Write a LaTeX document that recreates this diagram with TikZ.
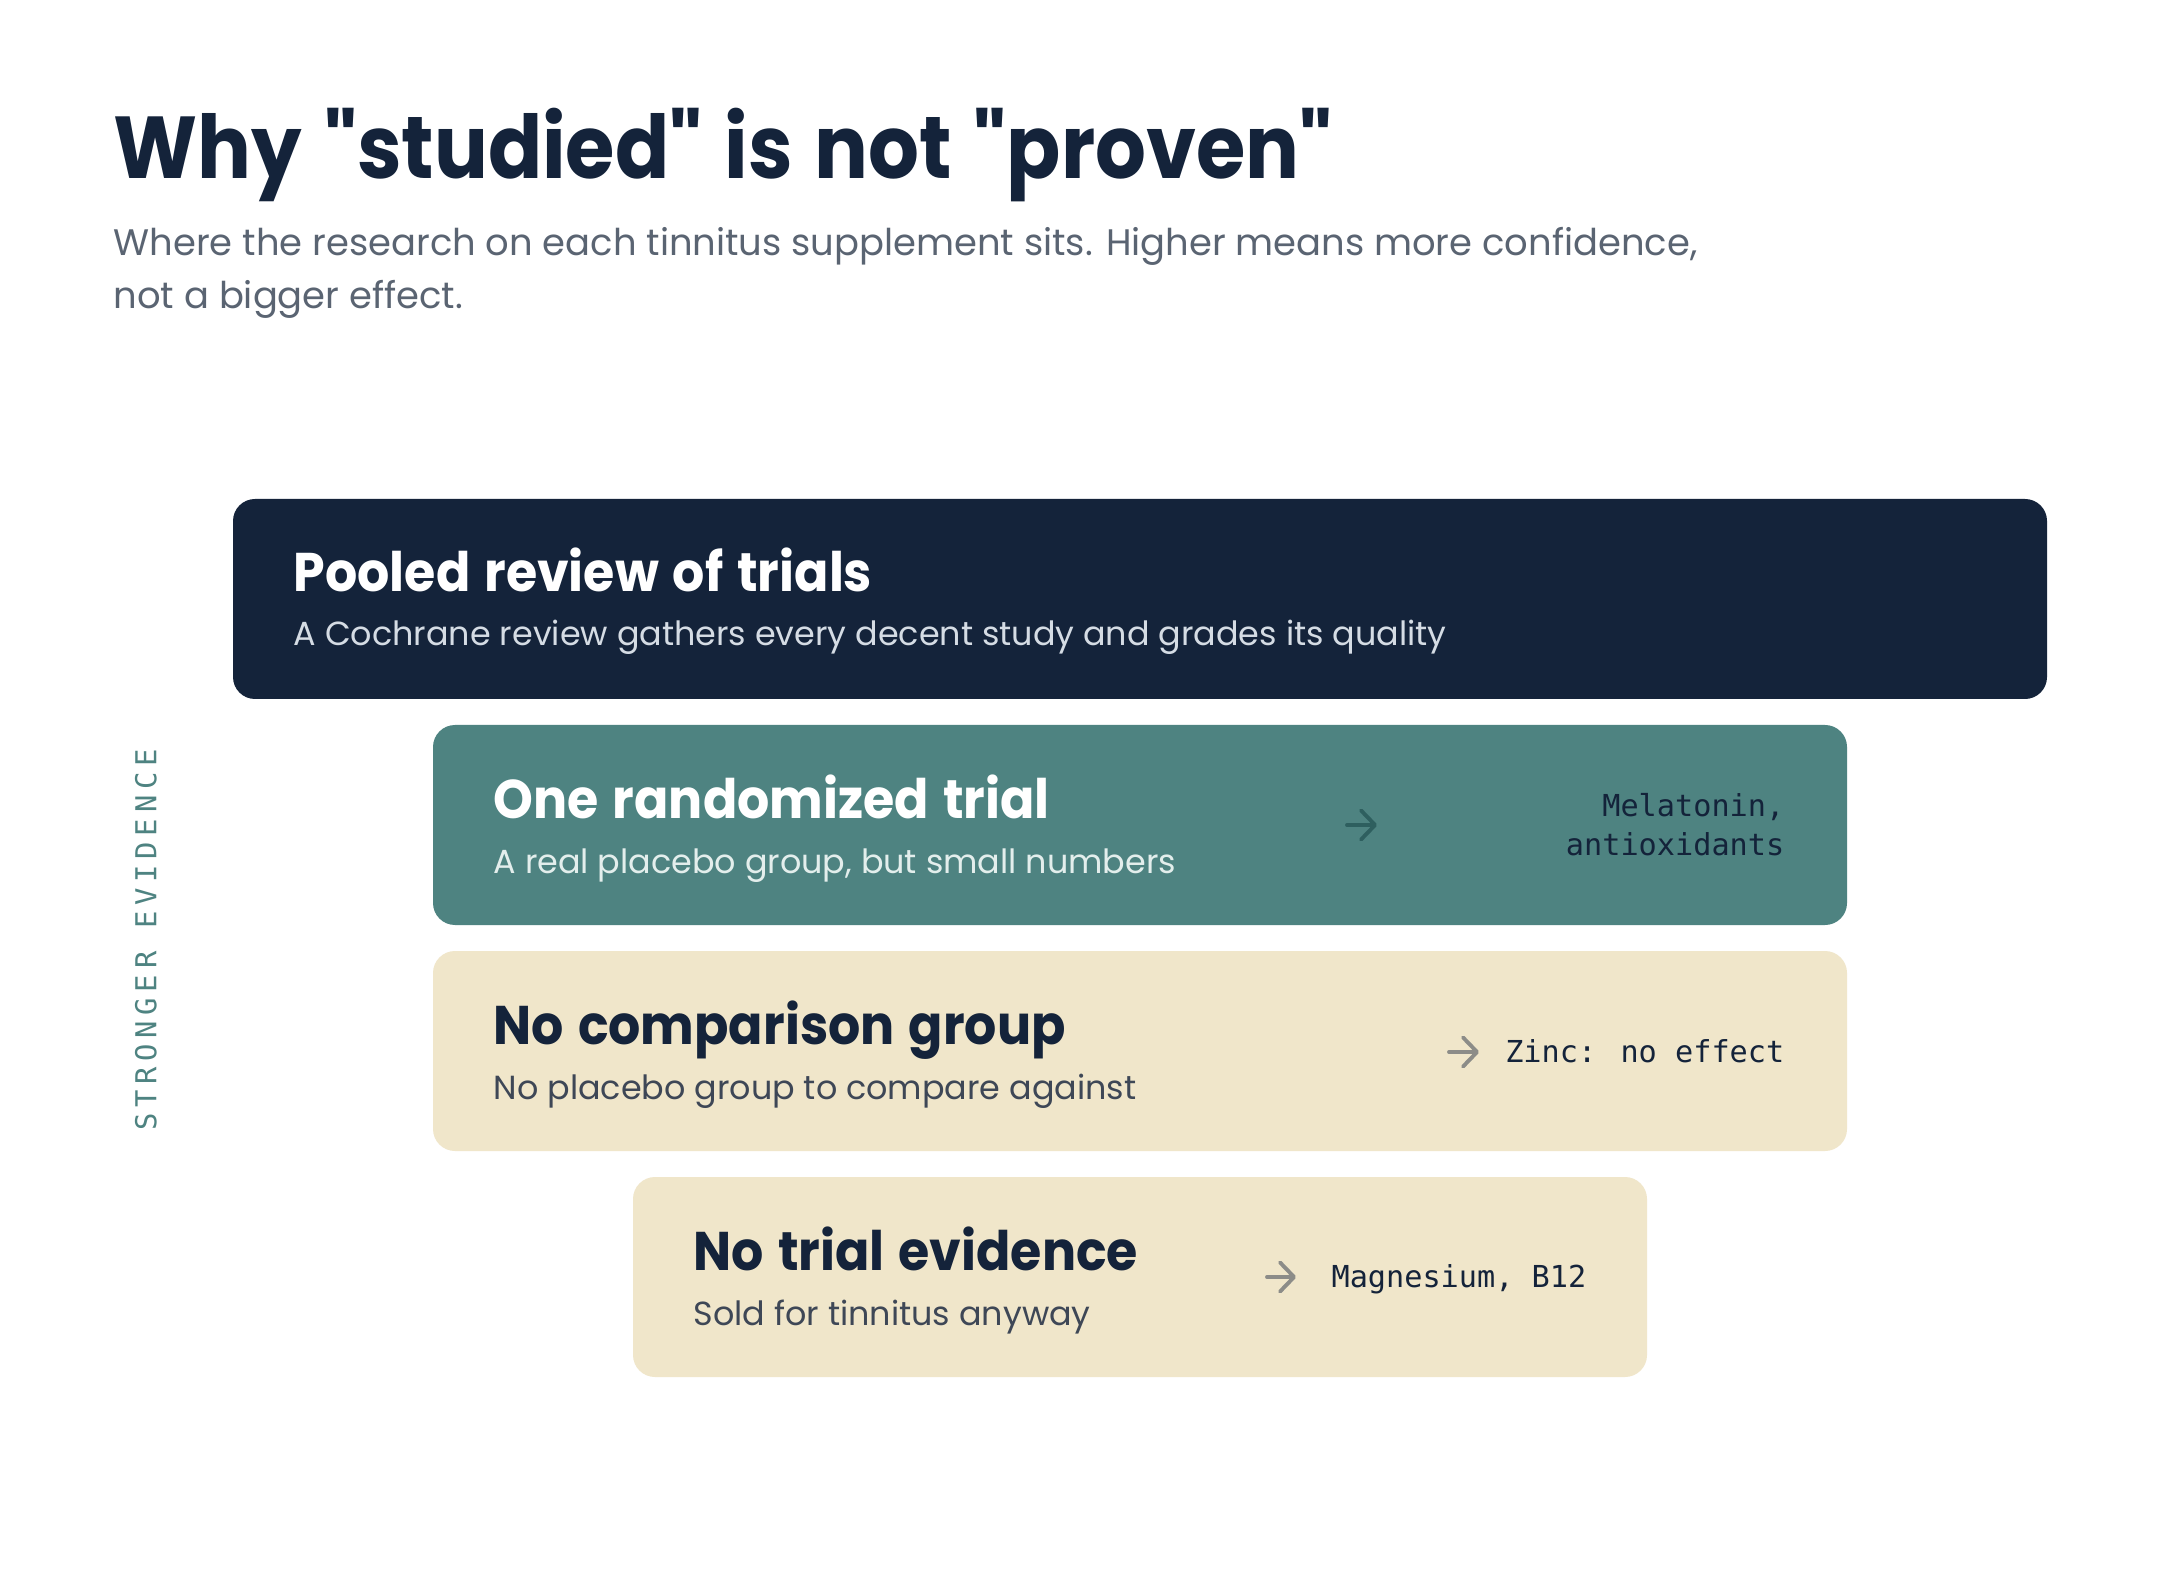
\documentclass[tikz,border=0pt]{standalone}
\usepackage{fontspec}
\setmainfont{Poppins}[Ligatures=TeXOff]
\newfontfamily\headfont{Poppins}[Ligatures=TeXOff, FakeStretch=0.91, WordSpace=1.3]
\newfontfamily\tierfont{Poppins}[FakeStretch=0.93, WordSpace=1.3]
\newfontfamily\monofont{DejaVu Sans Mono}
\newfontfamily\axisfont[LetterSpace=20]{DejaVu Sans Mono}
\usetikzlibrary{arrows.meta}

\definecolor{navy}{HTML}{14233A}
\definecolor{teal}{HTML}{4E8381}
\definecolor{cream}{HTML}{F0E6CA}
\definecolor{slate}{HTML}{5A6472}
\definecolor{mist}{HTML}{D5DCE4}
\definecolor{foam}{HTML}{E3EEEC}
\definecolor{ink}{HTML}{3E4756}
\definecolor{deepteal}{HTML}{2E5F5F}
\definecolor{stone}{HTML}{8C8C88}

\tikzset{
  tier/.style={rounded corners=0.22cm, inner sep=0, minimum height=2cm},
  tiertitle/.style={anchor=base west, inner sep=0, font=\tierfont\fontsize{15.5}{18}\selectfont\bfseries},
  tiernote/.style={anchor=base west, inner sep=0, font=\fontsize{9.5}{12}\selectfont},
  pick/.style={anchor=base east, inner sep=0, text=navy, font=\monofont\fontsize{8.6}{10}\selectfont},
  pointer/.style={-{Straight Barb[length=1.4mm,width=2.9mm,round]}, line width=1.1pt, line cap=round},
}

\begin{document}
\begin{tikzpicture}
  \useasboundingbox[fill=white] (0,0) rectangle (21.6,-15.8);

  % heading
  \node[anchor=base west, inner sep=0, text=navy, font=\headfont\fontsize{25}{30}\selectfont\bfseries]
    (title) at (1.13,-1.79) {Why "studied" is not "proven"};
  \node[anchor=base west, inner sep=0, text=slate, font=\fontsize{10.5}{13}\selectfont]
    (sub1) at (1.13,-2.56) {Where the research on each tinnitus supplement sits. Higher means more confidence,};
  \node[anchor=base west, inner sep=0, text=slate, font=\fontsize{10.5}{13}\selectfont]
    (sub2) at (1.13,-3.09) {not a bigger effect.};

  % the four tiers
  \node[tier, fill=navy, minimum width=18.14cm] (pooled) at (11.40,-5.99) {};
  \node[tier, fill=teal, minimum width=14.14cm] (rct) at (11.40,-8.25) {};
  \node[tier, fill=cream, minimum width=14.14cm] (nocomp) at (11.40,-10.51) {};
  \node[tier, fill=cream, minimum width=10.14cm] (none) at (11.40,-12.77) {};

  \node[tiertitle, text=white] (pooledT) at (2.93,-5.92) {Pooled review of trials};
  \node[tiernote, text=mist] (pooledN) at (2.93,-6.46) {A Cochrane review gathers every decent study and grades its quality};

  \node[tiertitle, text=white] (rctT) at (4.93,-8.18) {One randomized trial};
  \node[tiernote, text=foam] (rctN) at (4.93,-8.73) {A real placebo group, but small numbers};
  \coordinate (rctA) at (13.47,-8.25);
  \coordinate (rctB) at (13.77,-8.25);
  \draw[pointer, deepteal] (rctA) -- (rctB);
  \node[pick] (rctP1) at (17.85,-8.16) {Melatonin,};
  \node[pick] (rctP2) at (17.85,-8.55) {antioxidants};

  \node[tiertitle, text=navy] (nocompT) at (4.93,-10.44) {No comparison group};
  \node[tiernote, text=ink] (nocompN) at (4.93,-10.99) {No placebo group to compare against};
  \coordinate (nocompA) at (14.49,-10.52);
  \coordinate (nocompB) at (14.79,-10.52);
  \draw[pointer, stone] (nocompA) -- (nocompB);
  \node[pick] (nocompP) at (17.85,-10.62) {Zinc: no effect};

  \node[tiertitle, text=navy] (noneT) at (6.93,-12.70) {No trial evidence};
  \node[tiernote, text=ink] (noneN) at (6.93,-13.25) {Sold for tinnitus anyway};
  \coordinate (noneA) at (12.67,-12.77);
  \coordinate (noneB) at (12.96,-12.77);
  \draw[pointer, stone] (noneA) -- (noneB);
  \node[pick] (noneP) at (15.87,-12.87) {Magnesium, B12};

  % side axis
  \node[rotate=90, inner sep=0, text=teal, font=\axisfont\fontsize{8.2}{10}\selectfont]
    (axis) at (1.46,-9.40) {STRONGER EVIDENCE};
\end{tikzpicture}
\end{document}
